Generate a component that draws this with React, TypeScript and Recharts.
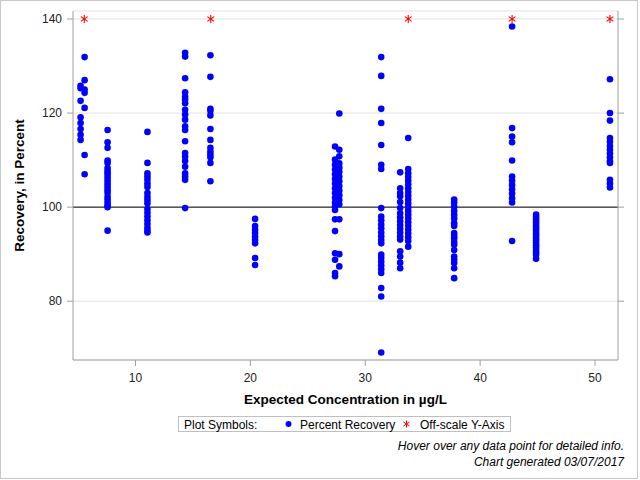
import React from 'react';
import {
  ScatterChart,
  Scatter,
  XAxis,
  YAxis,
  CartesianGrid,
  ReferenceLine,
} from 'recharts';

// ---- data ----
const xTicks = [10, 20, 30, 40, 50];
const yTicks = [80, 100, 120, 140];
const xDomain = [4.56, 52.0];
const yDomain = [67.5, 141.7];

const conc = [5.22, 5.57, 7.57, 11.04, 14.32, 16.52, 20.41, 27.37, 27.74, 31.39, 33.04, 33.74, 37.74, 42.78, 44.87, 51.3];

const rec522 = [125.8, 125.3, 122.6, 119.1, 117.9, 116.6, 115.4, 114.3];
const rec557 = [131.9, 127.0, 125.0, 124.3, 121.1, 111.1, 107.0];
const rec757 = [116.4, 113.8, 112.6, 109.9, 109.4, 108.3, 107.7, 107.2, 106.6, 106.0, 105.4, 104.8, 104.2, 103.6, 103.0, 102.2, 101.6, 101.0, 100.4, 100.0, 95.0];
const rec1104 = [116.0, 109.4, 107.2, 106.5, 105.8, 105.0, 104.3, 103.0, 102.2, 101.5, 100.8, 99.6, 98.8, 98.0, 97.2, 96.4, 95.6, 95.0, 94.6];
const rec1432 = [132.8, 132.0, 127.4, 124.4, 123.5, 122.9, 122.1, 120.7, 119.7, 118.6, 117.2, 116.4, 114.0, 111.5, 110.7, 109.8, 108.6, 107.2, 106.5, 105.8, 99.8];
const rec1652 = [132.3, 127.7, 120.9, 120.5, 119.5, 116.6, 114.3, 112.6, 111.8, 111.2, 110.6, 109.4, 105.5];
const rec2041 = [97.5, 96.0, 95.2, 94.5, 93.7, 93.0, 92.3, 89.2, 87.7];
const rec2737 = [112.9, 110.1, 109.0, 108.0, 107.0, 106.0, 105.0, 104.0, 103.0, 102.0, 101.0, 100.1, 99.4, 97.4, 94.9, 90.2, 88.8, 86.0, 85.3];
const rec2774 = [119.9, 112.2, 110.8, 109.3, 108.4, 107.5, 106.5, 105.5, 104.5, 103.5, 102.5, 101.5, 100.6, 97.4, 90.0, 87.4];
const rec3139 = [131.9, 127.9, 120.9, 117.9, 113.2, 109.0, 108.1, 99.8, 98.0, 97.2, 96.3, 95.5, 94.6, 93.8, 93.0, 92.3, 89.9, 89.2, 88.4, 87.6, 86.8, 86.0, 82.8, 81.0, 69.1];
const rec3304 = [107.4, 104.0, 103.0, 102.3, 101.1, 99.8, 98.7, 97.8, 97.0, 96.2, 95.4, 94.6, 93.8, 93.1, 90.6, 89.5, 88.2, 87.0];
const rec3374 = [114.7, 108.1, 107.2, 106.4, 105.6, 104.8, 104.0, 103.2, 102.4, 101.6, 100.8, 100.0, 99.2, 98.4, 97.6, 96.8, 96.0, 95.2, 94.4, 93.6, 92.8, 91.6];
const rec3774 = [101.6, 101.0, 100.1, 99.2, 98.4, 97.6, 96.6, 96.0, 94.5, 93.9, 93.4, 92.6, 92.0, 90.9, 89.5, 88.8, 88.1, 87.0, 84.9];
const rec4278 = [138.4, 116.8, 115.0, 113.8, 109.9, 106.5, 105.6, 104.7, 103.8, 102.9, 101.9, 101.0, 92.8];
const rec4487 = [98.4, 97.9, 97.4, 96.9, 96.4, 95.9, 95.4, 94.9, 94.4, 93.9, 93.4, 92.9, 92.4, 91.9, 91.4, 90.9, 90.4, 89.9, 89.0];
const rec5130 = [127.2, 120.0, 118.4, 114.7, 113.9, 113.0, 112.2, 111.4, 110.6, 109.8, 109.4, 105.8, 105.0, 104.2];

const recoveries = [rec522, rec557, rec757, rec1104, rec1432, rec1652, rec2041, rec2737, rec2774, rec3139, rec3304, rec3374, rec3774, rec4278, rec4487, rec5130];

const offScaleX = [5.54, 16.55, 33.74, 42.78, 51.3];
const offScaleY = 140;

const points = conc.flatMap((c, i) => recoveries[i].map((r) => ({ x: c, y: r })));
const offPoints = offScaleX.map((x) => ({ x, y: offScaleY }));

// ---- styling ----
const FONT = '"Liberation Sans", Arial, Helvetica, sans-serif';
const AXIS = '#a0a0a0';
const TXT = '#222';

const Dot = (p: any) => <circle cx={p.cx} cy={p.cy} r={3.3} fill="#0000FF" />;
const Star = (p: any) => {
  const { cx, cy } = p;
  return (
    <path
      d={`M${cx},${cy - 4}L${cx},${cy + 4}M${cx - 3.4},${cy - 2.4}L${cx + 3.4},${cy + 2.4}M${cx - 3.4},${cy + 2.4}L${cx + 3.4},${cy - 2.4}`}
      stroke="#FF0000"
      strokeWidth={1.1}
      fill="none"
    />
  );
};

const XLabel = (props: any) => {
  const vb = props.viewBox || {};
  return (
    <text x={vb.x + vb.width / 2} y={vb.y + 44} textAnchor="middle" fontFamily={FONT} fontSize={13.5} fontWeight="bold" fill="#000">
      Expected Concentration in µg/L
    </text>
  );
};

const YLabel = (props: any) => {
  const vb = props.viewBox || {};
  const x = vb.x + 23.5;
  const y = vb.y + vb.height / 2;
  return (
    <text x={x} y={y} transform={`rotate(-90, ${x}, ${y})`} textAnchor="middle" fontFamily={FONT} fontSize={13.5} fontWeight="bold" fill="#000">
      Recovery, in Percent
    </text>
  );
};

export default function App() {
  return (
    <div style={{ position: 'absolute', left: 0, top: 0, width: 640, height: 480, background: '#fff' }}>
      <ScatterChart width={640} height={480} margin={{ top: 11, right: 0, bottom: 0, left: 0 }}>
        <CartesianGrid vertical={false} stroke="#e2e2e2" />
        <XAxis
          type="number"
          dataKey="x"
          domain={xDomain}
          allowDataOverflow
          ticks={xTicks}
          height={120}
          tickSize={6}
          tickMargin={7}
          stroke={AXIS}
          tick={{ fill: TXT, fontSize: 12, fontFamily: FONT }}
          label={<XLabel />}
        />
        <XAxis
          xAxisId="top"
          orientation="top"
          type="number"
          domain={xDomain}
          allowDataOverflow
          height={0}
          tick={false}
          tickLine={false}
          stroke={AXIS}
        />
        <YAxis
          type="number"
          dataKey="y"
          domain={yDomain}
          allowDataOverflow
          ticks={yTicks}
          width={73}
          tickSize={6}
          tickMargin={5}
          stroke={AXIS}
          tick={{ fill: TXT, fontSize: 12, fontFamily: FONT }}
          label={<YLabel />}
        />
        <YAxis
          yAxisId="right"
          orientation="right"
          type="number"
          domain={yDomain}
          allowDataOverflow
          ticks={yTicks}
          width={22}
          tickSize={6}
          stroke={AXIS}
          tickFormatter={() => ''}
        />
        <ReferenceLine y={100} stroke="#000" strokeWidth={1} />
        <Scatter data={points} shape={<Dot />} isAnimationActive={false} />
        <Scatter data={offPoints} shape={<Star />} isAnimationActive={false} />
      </ScatterChart>
      <svg width={640} height={480} style={{ position: 'absolute', left: 0, top: 0, pointerEvents: 'none' }}>
        <rect x={0.5} y={0.5} width={637} height={478} fill="none" stroke="#c8c8c8" />
        <rect x={178.5} y={416.5} width={332} height={15} fill="none" stroke="#c0c0c0" />
        <text x={184} y={428.5} fontFamily={FONT} fontSize={12} fill="#000">Plot Symbols:</text>
        <circle cx={288.5} cy={424} r={3} fill="#0000FF" />
        <text x={300} y={428.5} fontFamily={FONT} fontSize={12} fill="#000">Percent Recovery</text>
        <path d="M406.5,420.5L406.5,427.5M403.5,422L409.5,426M403.5,426L409.5,422" stroke="#FF0000" strokeWidth={1} fill="none" />
        <text x={420} y={428.5} fontFamily={FONT} fontSize={12} fill="#000">Off-scale Y-Axis</text>
        <text x={624} y={450} textAnchor="end" fontFamily={FONT} fontSize={12} fontStyle="italic" fill="#000">Hover over any data point for detailed info.</text>
        <text x={624} y={466} textAnchor="end" fontFamily={FONT} fontSize={12} fontStyle="italic" fill="#000">Chart generated 03/07/2017</text>
      </svg>
    </div>
  );
}
